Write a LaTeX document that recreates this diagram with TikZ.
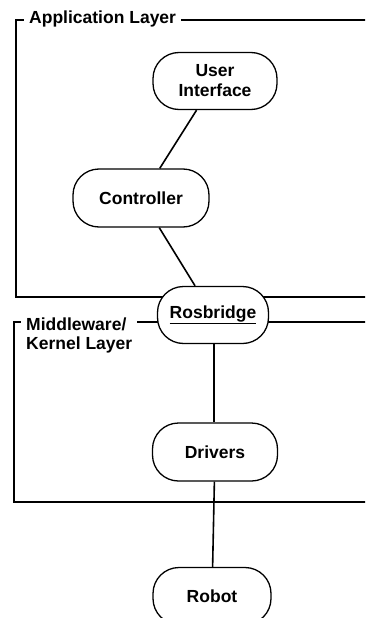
\documentclass[tikz,border=0pt]{standalone}
\usepackage{fontspec}
\setmainfont{Liberation Sans}
\begin{document}
\begin{tikzpicture}[x=1pt,y=-1pt,
  box/.style={draw, line width=1.3pt, fill=white, rounded corners=26pt, align=center,
    font=\fontsize{17.5}{20}\selectfont\bfseries, inner sep=0pt},
  layer/.style={line width=2.6pt},
  link/.style={line width=1.6pt},
  lbl/.style={fill=white, anchor=west, font=\fontsize{17.5}{19}\selectfont\bfseries,
    align=left, inner xsep=5pt, inner ysep=2pt}]
\clip (0,0) rectangle (365,618);
\fill[white] (0,0) rectangle (365,618);
% layers
\draw[layer] (370,20) -- (16,20) -- (16,297) -- (370,297);
\draw[layer] (370,322) -- (14,322) -- (14,502) -- (370,502);
\node[lbl] (app) at (24,19) {Application Layer};
\node[lbl] (mid) at (21,335) {Middleware/\\Kernel Layer};
% nodes
\node[box, minimum width=124pt, minimum height=57pt] (ui) at (215,81) {User\\Interface};
\node[box, minimum width=136pt, minimum height=58pt] (ctl) at (141,198) {Controller};
\node[box, minimum width=111pt, minimum height=57pt] (ros) at (213,315) {\underline{Rosbridge}};
\node[box, minimum width=125pt, minimum height=58pt] (drv) at (215,452) {Drivers};
\node[box, minimum width=118pt, minimum height=57pt] (rob) at (212,596) {Robot};
% links
\draw[link] (ui) -- (ctl);
\draw[link] (ctl) -- (ros);
\draw[link] (ros.south) ++(1,0) coordinate (rs) -- (rs |- drv.north);
\draw[link] (drv) -- (rob);
\end{tikzpicture}
\end{document}
